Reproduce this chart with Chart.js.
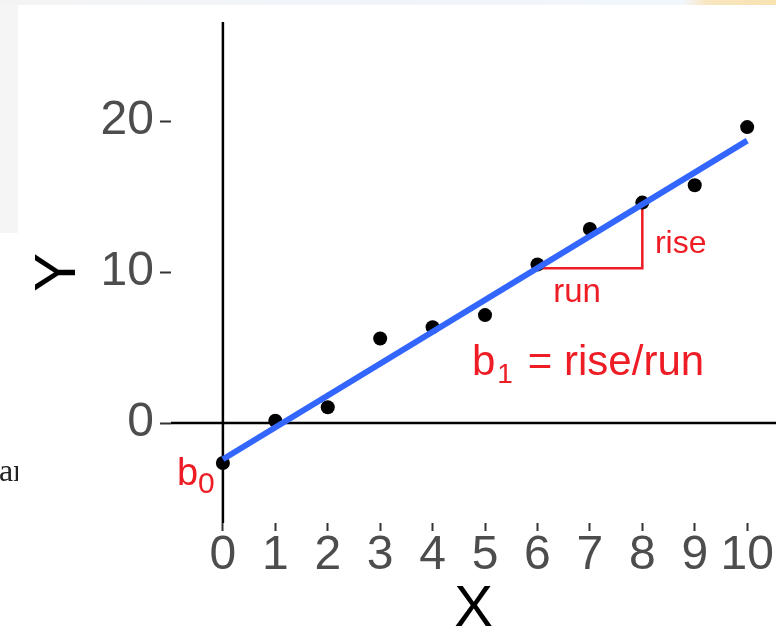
<!DOCTYPE html>
<html>
<head>
<meta charset="utf-8">
<script src="https://cdn.jsdelivr.net/npm/chart.js@4.4.1/dist/chart.umd.min.js"></script>
<style>
  html, body { margin: 0; padding: 0; background: #fff; }
  canvas { display: block; }
</style>
</head>
<body>
<canvas id="regression" width="776" height="639"></canvas>
<script>
// observations
const xValues = [0, 1, 2, 3, 4, 5, 6, 7, 8, 9, 10];
const yValues = [-2.65, 0.15, 1.05, 5.6, 6.35, 7.15, 10.5, 12.85, 14.6, 15.75, 19.6];

// fitted line end points
const fitX = [0, 10];
const fitY = [-2.4, 18.7];

// rise / run triangle under the line
const triX = [6, 8, 8];
const triY = [10.25, 10.25, 14.5];

const xTicks = [0, 1, 2, 3, 4, 5, 6, 7, 8, 9, 10];
const yTicks = [0, 10, 20];

const xMin = -0.99, xMax = 10.55;
const yMin = -6.62, yMax = 26.56;

const sans = "'Liberation Sans', Arial, sans-serif";
const red = '#ee1c25';

const toPoints = (xs, ys) => xs.map((v, i) => ({x: v, y: ys[i]}));

const backdrop = {
    id: 'backdrop',
    beforeDraw(chart) {
        const {ctx, width, height} = chart;
        ctx.save();
        ctx.fillStyle = '#fff';
        ctx.fillRect(0, 0, width, height);
        ctx.fillStyle = '#f5f5f5';
        ctx.fillRect(0, 0, 18, 233);
        const band = ctx.createLinearGradient(0, 0, width, 0);
        band.addColorStop(0, '#f4f4f4');
        band.addColorStop(0.5, '#f0f4fa');
        band.addColorStop(0.88, '#f2f6fd');
        band.addColorStop(0.91, '#f8e6c0');
        band.addColorStop(1, '#f8e2b0');
        ctx.fillStyle = band;
        ctx.fillRect(0, 0, width, 5);
        // scrap of page text at the left edge
        ctx.beginPath();
        ctx.rect(0, 440, 18, 60);
        ctx.clip();
        ctx.fillStyle = '#222';
        ctx.font = "32px 'Liberation Serif', serif";
        ctx.fillText('ar', -1, 481);
        ctx.restore();
    }
};

const labels = {
    id: 'labels',
    afterDatasetsDraw(chart) {
        const {ctx, scales: {x, y}} = chart;
        ctx.save();
        ctx.fillStyle = red;
        ctx.textBaseline = 'alphabetic';
        const put = (text, px, py, size) => {
            ctx.font = size + 'px ' + sans;
            ctx.fillText(text, px, py);
            return px + ctx.measureText(text).width;
        };
        put('rise', x.getPixelForValue(8.24), y.getPixelForValue(11.26), 32);
        put('run', x.getPixelForValue(6.3), y.getPixelForValue(8.0), 33);

        let px = x.getPixelForValue(4.75);
        let py = y.getPixelForValue(3.19);
        px = put('b', px, py, 42);
        px = put('1', px + 2, py + 8, 28);
        put('= rise/run', px + 15, py, 42);

        px = x.getPixelForValue(-0.876);
        py = y.getPixelForValue(-4.1);
        px = put('b', px, py, 38);
        put('0', px, py + 8, 30);
        ctx.restore();
    }
};

const ctx = document.getElementById('regression').getContext('2d');
new Chart(ctx, {
    type: 'scatter',
    data: {
        datasets: [{
            type: 'line',
            data: toPoints(fitX, fitY),
            borderColor: '#3366ff',
            borderWidth: 6,
            pointRadius: 0,
            order: 0
        }, {
            data: toPoints(xValues, yValues),
            backgroundColor: '#000',
            borderWidth: 0,
            pointRadius: 7,
            order: 1
        }, {
            type: 'line',
            data: toPoints(triX, triY),
            borderColor: red,
            borderWidth: 2.5,
            pointRadius: 0,
            order: 2
        }, {
            // y = 0 and x = 0 reference lines
            type: 'line',
            data: toPoints([xMin, xMax], [0, 0]),
            borderColor: '#000',
            borderWidth: 2.5,
            pointRadius: 0,
            order: 3
        }, {
            type: 'line',
            data: toPoints([0, 0], [yMin, yMax]),
            borderColor: '#000',
            borderWidth: 2.5,
            pointRadius: 0,
            order: 3
        }]
    },
    options: {
        responsive: false,
        animation: false,
        layout: {
            autoPadding: false,
            padding: {top: 22, right: 0, bottom: 0, left: 0}
        },
        scales: {
            x: {
                type: 'linear',
                min: xMin,
                max: xMax,
                afterBuildTicks: (scale) => { scale.ticks = xTicks.map(v => ({value: v})); },
                afterFit: (scale) => {
                    scale.height = 116;
                    scale.paddingLeft = 0;
                    scale.paddingRight = 0;
                },
                border: {display: false},
                grid: {
                    drawOnChartArea: false,
                    tickLength: 8,
                    tickWidth: 2,
                    tickColor: '#333'
                },
                ticks: {
                    color: '#4d4d4d',
                    padding: 1,
                    maxRotation: 0,
                    autoSkip: false,
                    font: {family: sans, size: 48, lineHeight: 1}
                },
                title: {
                    display: true,
                    text: 'X',
                    color: '#000',
                    padding: {top: 0, bottom: 0},
                    font: {family: sans, size: 58, lineHeight: 1}
                }
            },
            y: {
                type: 'linear',
                min: yMin,
                max: yMax,
                afterBuildTicks: (scale) => { scale.ticks = yTicks.map(v => ({value: v})); },
                afterFit: (scale) => {
                    scale.width = 171;
                    scale.paddingTop = 0;
                    scale.paddingBottom = 0;
                },
                border: {display: false},
                grid: {
                    drawOnChartArea: false,
                    tickLength: 11,
                    tickWidth: 2,
                    tickColor: '#333'
                },
                ticks: {
                    color: '#4d4d4d',
                    padding: 6,
                    font: {family: sans, size: 48}
                },
                title: {
                    display: true,
                    text: 'Y',
                    color: '#000',
                    padding: {top: 24, bottom: 0},
                    font: {family: sans, size: 58}
                }
            }
        },
        plugins: {
            legend: {display: false},
            tooltip: {enabled: false}
        }
    },
    plugins: [backdrop, labels]
});
</script>
</body>
</html>
